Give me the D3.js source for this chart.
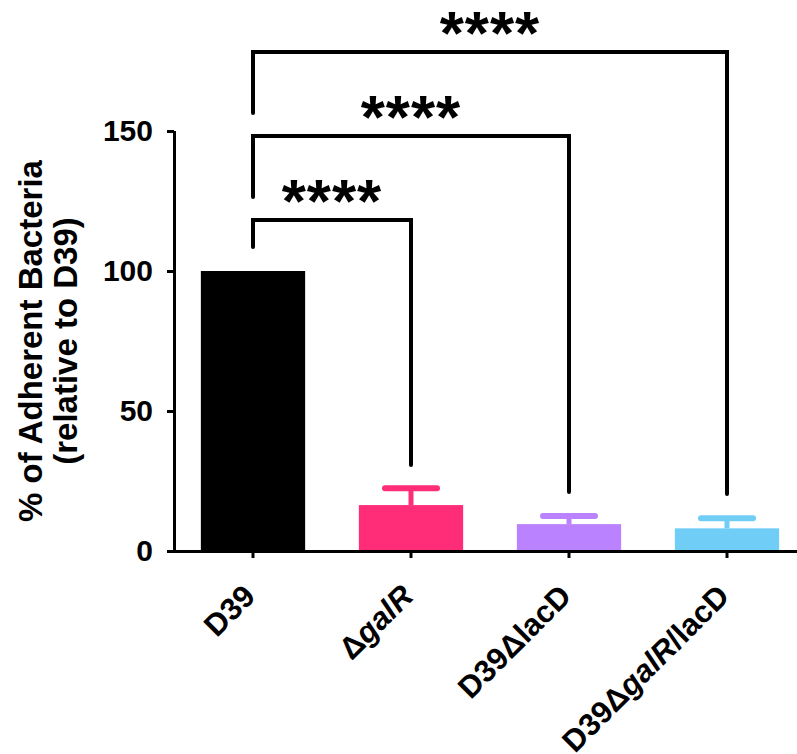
<!DOCTYPE html>
<html>
<head>
<meta charset="utf-8">
<script src="https://cdn.jsdelivr.net/npm/d3@7"></script>
<style>
  html, body { margin: 0; padding: 0; background: #fff; }
  svg { display: block; }
  text { font-family: "Liberation Sans", Arial, sans-serif; font-weight: bold; }
</style>
</head>
<body>
<svg id="chart" width="797" height="754"></svg>
<script>
// ---- data ----
const categories = ["D39", "ΔgalR", "D39ΔlacD", "D39ΔgalR/lacD"];
const values = [100, 16.4, 9.6, 8.1];
const errors = [0, 6.0, 2.9, 3.6];
const colors = ["#000000", "#FF2D77", "#BB82FF", "#70CDF6"];
const yTicks = [0, 50, 100, 150];
// label pieces: [text, italic]
const labelParts = [
  [["D39", false]],
  [["Δ", false], ["galR", true]],
  [["D39Δ", false], ["lacD", false]],
  [["D39Δ", false], ["galR", true], ["/lacD", false]]
];
// significance comparisons: from, to, bracket height, left-leg bottom, right-leg bottom, label
const compFrom = [0, 0, 0];
const compTo = [1, 2, 3];
const compHeight = [118.2, 148.2, 178.2];
const compLeftEnd = [108.6, 126.4, 156.4];
const compRightEnd = [30.7, 21.1, 20.4];
const compLabel = ["****", "****", "****"];

// ---- layout ----
const svg = d3.select("#chart");
const x0 = 174, x1 = 806, yBottom = 551, yTop = 131;

const x = d3.scaleBand().domain(categories).range([x0, x1])
  .paddingInner(0.34).paddingOuter(0.17);
const y = d3.scaleLinear().domain([0, 150]).range([yBottom, yTop]);

// bars
svg.append("g").selectAll("rect").data(categories).join("rect")
  .attr("x", d => x(d))
  .attr("width", x.bandwidth())
  .attr("y", (d, i) => y(values[i]))
  .attr("height", (d, i) => y(0) - y(values[i]))
  .attr("fill", (d, i) => colors[i]);

// error bars (upper only)
const eb = svg.append("g");
categories.forEach((c, i) => {
  if (!errors[i]) return;
  const cx = x(c) + x.bandwidth() / 2;
  eb.append("line").attr("x1", cx).attr("x2", cx)
    .attr("y1", y(values[i])).attr("y2", y(values[i] + errors[i]))
    .attr("stroke", colors[i]).attr("stroke-width", 5);
  eb.append("line").attr("x1", cx - 26).attr("x2", cx + 26)
    .attr("y1", y(values[i] + errors[i])).attr("y2", y(values[i] + errors[i]))
    .attr("stroke", colors[i]).attr("stroke-width", 6).attr("stroke-linecap", "round");
});

// y axis
const yAxis = svg.append("g").attr("transform", `translate(${x0},0)`)
  .call(d3.axisLeft(y).tickValues(yTicks).tickSize(7).tickPadding(14).tickFormat(d3.format("d")));
yAxis.select(".domain").attr("stroke", "#000").attr("stroke-width", 3).attr("d", `M0.5,${yTop}V${yBottom}`);
yAxis.selectAll(".tick line").attr("stroke", "#000").attr("stroke-width", 3);
yAxis.selectAll(".tick text").attr("font-size", 30).attr("font-family", "Liberation Sans, Arial, sans-serif")
  .attr("font-weight", "bold").attr("fill", "#000");

// x axis
const xAxis = svg.append("g").attr("transform", `translate(0,${yBottom})`)
  .call(d3.axisBottom(x).tickSize(7).tickFormat(""));
xAxis.select(".domain").attr("stroke", "#000").attr("stroke-width", 3).attr("d", `M${x0 - 1},0.5H797`);
xAxis.selectAll(".tick line").attr("stroke", "#000").attr("stroke-width", 3);
xAxis.selectAll(".tick text").remove();

// x labels rotated
const xl = svg.append("g");
categories.forEach((c, i) => {
  const cx = x(c) + x.bandwidth() / 2;
  const t = xl.append("text")
    .attr("transform", `translate(${cx + 4},${yBottom + 47}) rotate(-45)`)
    .attr("text-anchor", "end")
    .attr("font-size", 31)
    .attr("fill", "#000");
  labelParts[i].forEach(([s, it]) => {
    t.append("tspan").text(s).attr("font-style", it ? "italic" : "normal");
  });
});

// y axis title
const yt = svg.append("text")
  .attr("transform", `translate(42,${(yTop + yBottom) / 2}) rotate(-90)`)
  .attr("text-anchor", "middle").attr("font-size", 33).attr("fill", "#000");
yt.append("tspan").attr("x", 0).attr("y", 0).text("% of Adherent Bacteria");
yt.append("tspan").attr("x", 0).attr("y", 35).text("(relative to D39)");

// significance brackets
const sg = svg.append("g");
compFrom.forEach((f, k) => {
  const xa = x(categories[f]) + x.bandwidth() / 2;
  const xb = x(categories[compTo[k]]) + x.bandwidth() / 2;
  const yh = y(compHeight[k]);
  sg.append("path")
    .attr("d", `M${xa},${y(compLeftEnd[k])}V${yh}H${xb}V${y(compRightEnd[k])}`)
    .attr("fill", "none").attr("stroke", "#000").attr("stroke-width", 4)
    .attr("stroke-linecap", "round");
  sg.append("text")
    .attr("x", (xa + xb) / 2).attr("y", yh + 2)
    .attr("text-anchor", "middle").attr("font-size", 62).attr("letter-spacing", 1)
    .attr("fill", "#000")
    .text(compLabel[k]);
});
</script>
</body>
</html>
